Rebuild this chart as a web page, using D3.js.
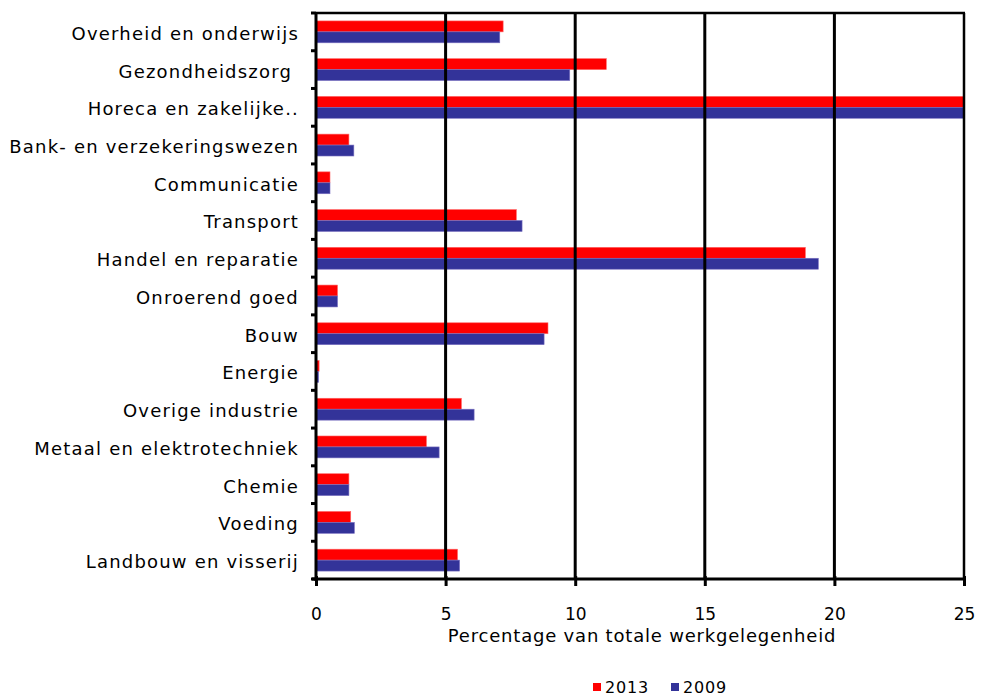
<!DOCTYPE html>
<html><head><meta charset="utf-8">
<script src="https://cdn.jsdelivr.net/npm/d3@7"></script>
<style>body{margin:0;background:#fff;} text{font-family:"DejaVu Sans",Verdana,sans-serif;}</style>
</head><body>
<svg id="c" width="981" height="696"></svg>
<script>
const categories = ["Overheid en onderwijs","Gezondheidszorg ","Horeca en zakelijke..","Bank- en verzekeringswezen","Communicatie","Transport","Handel en reparatie","Onroerend goed","Bouw","Energie","Overige industrie","Metaal en elektrotechniek","Chemie","Voeding","Landbouw en visserij"];
const values2013 = [7.22,11.2,26.5,1.27,0.54,7.73,18.88,0.83,8.95,0.12,5.61,4.26,1.27,1.34,5.46];
const values2009 = [7.09,9.79,26.0,1.46,0.54,7.95,19.38,0.83,8.8,0.1,6.1,4.75,1.27,1.48,5.54];
const xTicks = [0,5,10,15,20,25];
const seriesNames = ["2013","2009"];
const colors = ["#ff0000","#333399"];

const svg = d3.select("#c");
const L=316, R=964, T=13, B=579;
const x = d3.scaleLinear().domain([0,25]).range([L,R]);
const y = d3.scaleBand().domain(categories).range([T,B]).paddingInner(0.42).paddingOuter(0.21);
const ySub = d3.scaleBand().domain(seriesNames).range([0,y.bandwidth()]);
const step = y.step();

const defs = svg.append("defs");
defs.append("clipPath").attr("id","clip").append("rect").attr("x",L).attr("y",T).attr("width",R-L).attr("height",B-T);

// bars
const g = svg.append("g").attr("clip-path","url(#clip)");
const series = [values2013, values2009];
series.forEach((vals,si)=>{
  g.selectAll(null).data(categories).enter().append("rect")
    .attr("x",x(0)).attr("y",d=>y(d)+ySub(seriesNames[si]))
    .attr("width",(d,i)=>x(vals[i])-x(0)).attr("height",ySub.bandwidth())
    .attr("fill",colors[si]).attr("stroke", si===0?"#ff6666":"#7a70c0").attr("stroke-width",0.6);
});

// gridlines
svg.append("g").selectAll("line").data(xTicks.slice(1)).enter().append("line")
  .attr("x1",d=>x(d)).attr("x2",d=>x(d)).attr("y1",T).attr("y2",B)
  .attr("stroke","#000").attr("stroke-width",d=>d===25?2.5:3);
// top border
svg.append("line").attr("x1",L).attr("x2",R+1).attr("y1",T).attr("y2",T).attr("stroke","#000").attr("stroke-width",2.5);

// x axis
const xa = svg.append("g").attr("transform",`translate(0,${B})`).call(d3.axisBottom(x).tickValues(xTicks).tickSize(7).tickPadding(0).tickFormat(d3.format("d")));
xa.select(".domain").attr("stroke","#000").attr("stroke-width",3).attr("d",`M${L-4},0H${R+1}`);
xa.selectAll(".tick line").attr("stroke","#000").attr("stroke-width",3).attr("y1",-3);
xa.selectAll(".tick text").attr("font-size",17).attr("fill","#000").attr("font-family","DejaVu Sans")
  .attr("y",41).attr("dy",null);

// y axis
const ya = svg.append("g").attr("transform",`translate(${L},0)`).call(d3.axisLeft(y).tickSize(0).tickPadding(0));
ya.select(".domain").attr("stroke","#000").attr("stroke-width",3).attr("d",`M0,${T-1}V${B+2}`);
ya.selectAll(".tick text").attr("font-size",18).attr("fill","#000").attr("font-family","DejaVu Sans")
  .attr("x",-17).attr("dy","0.44em").attr("letter-spacing",1.2).attr("xml:space","preserve");
// boundary ticks
const bounds = d3.range(categories.length+1).map(i=>T+i*step);
svg.append("g").selectAll("line").data(bounds).enter().append("line")
  .attr("x1",L-5).attr("x2",L).attr("y1",d=>d).attr("y2",d=>d).attr("stroke","#000").attr("stroke-width",3);

// x title
svg.append("text").attr("x",(L+R)/2+2).attr("y",642).attr("text-anchor","middle").attr("font-size",18)
  .attr("letter-spacing",0.8).text("Percentage van totale werkgelegenheid");

// legend
const lg = svg.append("g").attr("transform","translate(593,692.5)");
seriesNames.forEach((s,i)=>{
  const gx = i*78;
  lg.append("rect").attr("x",gx).attr("y",-9.5).attr("width",8).attr("height",8).attr("fill",colors[i]);
  lg.append("text").attr("x",gx+12).attr("y",0).attr("font-size",16).attr("letter-spacing",0.8).text(s);
});
</script>
</body></html>
